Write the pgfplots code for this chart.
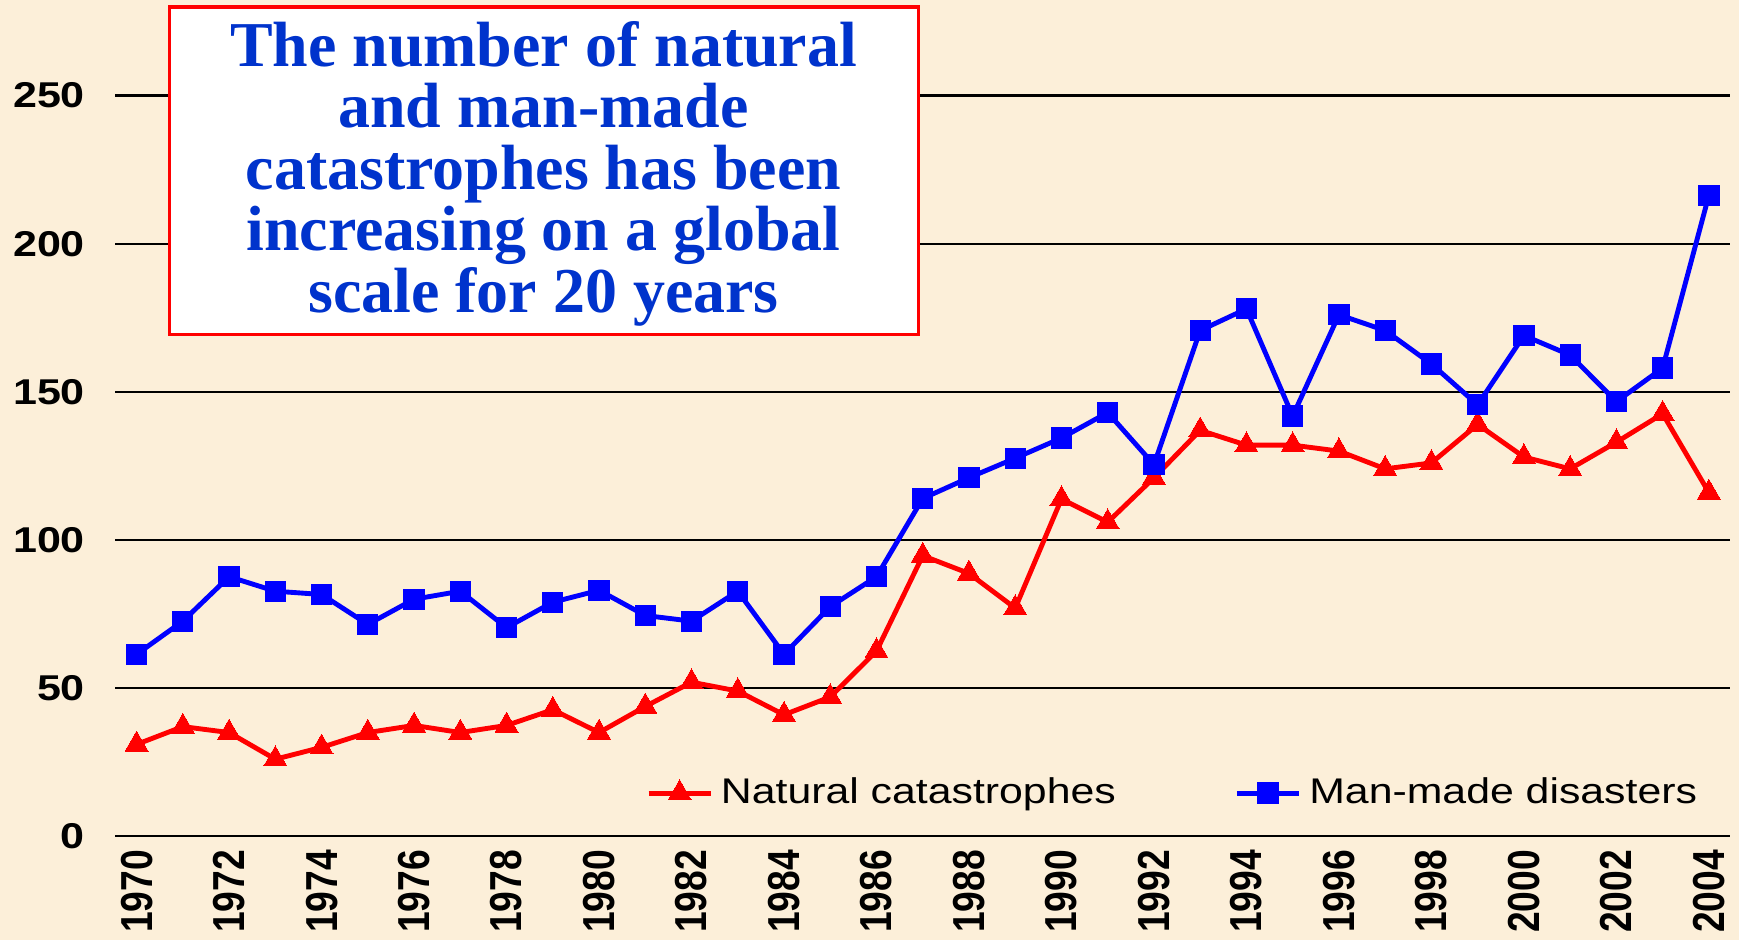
\documentclass[border=0pt]{standalone}
\usepackage{fontspec}
\setmainfont{Liberation Serif}
\setsansfont{Liberation Sans}
\newfontfamily\widesans[FakeStretch=1.2]{Liberation Sans}
\newfontfamily\condsans[FakeStretch=0.83]{Liberation Sans}
\usepackage{pgfplots}
\pgfplotsset{compat=1.18}

\definecolor{parchment}{RGB}{252,239,217}
\definecolor{titleblue}{RGB}{0,51,204}

\begin{document}
\begin{tikzpicture}
    % background of the whole slide
    \fill[parchment] (-10.4mm,-9.4mm) rectangle (146.4mm,75.4mm);
    \begin{axis}[
        scale only axis,
        width=145.6mm,
        height=74.8mm,
        xmin=1969.54, xmax=2004.46,
        ymin=0, ymax=280,
        xtick={1970,1972,...,2004},
        ytick={0,50,...,250},
        ymajorgrids,
        grid style={draw=black, line width=0.6pt},
        axis line style={draw=none},
        major tick length=0pt,
        clip=false,
        /pgf/number format/assume math mode=true,
        x tick label style={/pgf/number format/1000 sep={}, rotate=90, anchor=east,
            font=\condsans\bfseries\fontsize{11.5}{12}\selectfont},
        y tick label style={font=\widesans\bfseries\fontsize{9.2}{10}\selectfont, xshift=-1.5mm},
        legend style={at={(0.321,0.052)}, anchor=west, draw=none, fill=none,
            font=\widesans\fontsize{9.15}{10}\selectfont,
            /tikz/every even column/.append style={column sep=10mm}},
        legend columns=2,
        legend image code/.code={\draw[mark repeat=2,mark phase=2]
            plot coordinates {(0cm,0cm)(0.28cm,0cm)(0.56cm,0cm)};},
    ]
        \addplot[color=red, line width=1.25pt, mark=triangle*,
            mark options={fill=red, draw=red, line width=0pt}, mark size=3.4pt] coordinates {
            (1970, 31) (1971, 37) (1972, 35) (1973, 26) (1974, 30)
            (1975, 35) (1976, 37.4) (1977, 35) (1978, 37.4) (1979, 42.7)
            (1980, 35) (1981, 43.8) (1982, 52) (1983, 49) (1984, 41)
            (1985, 47) (1986, 62.5) (1987, 94.7) (1988, 88.7) (1989, 77)
            (1990, 113.8) (1991, 106) (1992, 121) (1993, 137) (1994, 132)
            (1995, 132) (1996, 130) (1997, 124) (1998, 126) (1999, 139)
            (2000, 128) (2001, 124) (2002, 133) (2003, 142.6) (2004, 116)
        };
        \addlegendentry{Natural catastrophes}
        \addplot[color=blue, line width=1.25pt, mark=square*,
            mark options={fill=blue, draw=blue, line width=0pt}, mark size=2.6pt] coordinates {
            (1970, 61.4) (1971, 72.6) (1972, 87.6) (1973, 82.7) (1974, 81.6)
            (1975, 71.5) (1976, 80) (1977, 82.7) (1978, 70.4) (1979, 79)
            (1980, 83) (1981, 74.5) (1982, 72.6) (1983, 82.7) (1984, 61.4)
            (1985, 77.5) (1986, 87.6) (1987, 114) (1988, 121) (1989, 127.6)
            (1990, 134.4) (1991, 143) (1992, 125.4) (1993, 170.7) (1994, 178)
            (1995, 141.8) (1996, 176) (1997, 170.7) (1998, 159.4) (1999, 145.6)
            (2000, 169) (2001, 162.4) (2002, 146.7) (2003, 158) (2004, 216.3)
        };
        \addlegendentry{Man-made disasters}
        % title box
        \draw[red, fill=white, line width=0.8pt]
            (axis cs:1970.72,169.2) rectangle (axis cs:1986.91,279.9);
        \node[text=titleblue, align=center,
            font=\rmfamily\bfseries\fontsize{16.4}{15.8}\selectfont]
            at (axis cs:1978.8,223.6)
            {The number of natural\\and man-made\\catastrophes has been\\increasing on a global\\scale for 20 years};
    \end{axis}
    \pgfresetboundingbox
    \path[use as bounding box] (-10.4mm,-9.4mm) rectangle (146.4mm,75.4mm);
\end{tikzpicture}
\end{document}
